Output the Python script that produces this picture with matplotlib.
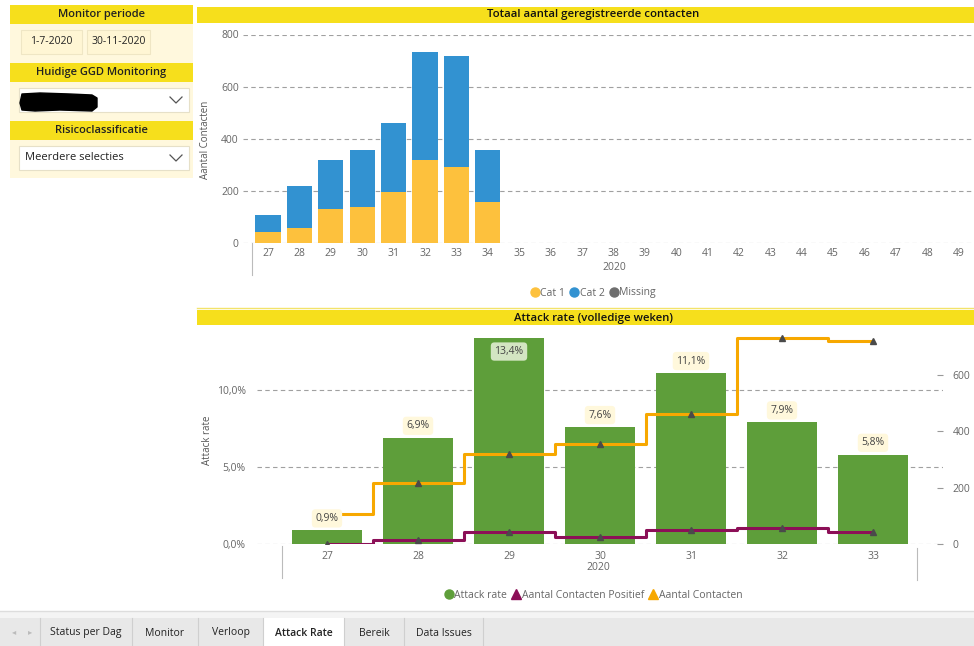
import matplotlib
matplotlib.use('Agg')
import matplotlib.pyplot as plt
from matplotlib.patches import Rectangle, Polygon
from matplotlib.lines import Line2D
from matplotlib.ticker import FuncFormatter

plt.rcParams['font.family'] = ['Open Sans', 'DejaVu Sans']

# ---------------- data ----------------
top_weeks = list(range(27, 50))
cat_weeks = [27, 28, 29, 30, 31, 32, 33, 34]
cat1 = [40, 56, 128, 138, 196, 316, 291, 157]
cat2 = [66, 162, 189, 217, 264, 415, 427, 198]
missing = [0, 0, 0, 0, 0, 0, 0, 0]

ar_weeks = [27, 28, 29, 30, 31, 32, 33]
attack_rate = [0.9, 6.9, 13.4, 7.6, 11.1, 7.9, 5.8]
contacts_pos = [1, 15, 43, 27, 51, 58, 42]
contacts = [107, 218, 318, 355, 460, 731, 718]

tabs = ["Status per Dag", "Monitor", "Verloop", "Attack Rate", "Bereik", "Data Issues"]

# ---------------- colors ----------------
YEL_HDR = '#F6DF1C'
CREAM = '#FFF8DD'
C_CAT1 = '#FDC13D'
C_CAT2 = '#3292D1'
C_MISS = '#6E6E6E'
C_GREEN = '#5E9E3A'
C_ORANGE = '#F7A800'
C_PURPLE = '#8C0F57'
C_MARK = '#4A4A4A'
C_TXT = '#666666'

W, H = 974, 646
fig = plt.figure(figsize=(W / 100, H / 100), dpi=100, facecolor='white')


def fx(x):
    return x / W


def fy(y):
    return 1 - y / H


def frect(x, y, w, h):
    return [x / W, 1 - (y + h) / H, w / W, h / H]


def box(x, y, w, h, fc, ec='none', lw=0.8, z=0):
    r = Rectangle((fx(x), fy(y + h)), w / W, h / H, transform=fig.transFigure,
                  facecolor=fc, edgecolor=ec, linewidth=lw, zorder=z)
    fig.add_artist(r)


def ftext(x, y, s, **kw):
    kw.setdefault('ha', 'center')
    kw.setdefault('va', 'center')
    fig.text(fx(x), fy(y), s, **kw)


def fline(xs, ys, **kw):
    fig.add_artist(Line2D([fx(v) for v in xs], [fy(v) for v in ys],
                          transform=fig.transFigure, **kw))


# ---------------- page background ----------------
box(0, 611, W, 7, '#F4F4F4')
fline([0, W], [611, 611], color='#DDDDDD', lw=1)
box(0, 618, W, 28, '#E8E8E8')

# ---------------- left filter panel ----------------
box(10, 5, 183, 173, CREAM)
for (y, label) in [(5, 'Monitor periode'), (63, 'Huidige GGD Monitoring'),
                   (121, 'Risicoclassificatie')]:
    box(10, y, 183, 19, YEL_HDR)
    ftext(101.5, y + 9.5, label, fontsize=8, color='#222222', weight='semibold')

box(21, 30, 61, 24, '#FFF6D4', ec='#EFE6C4')
ftext(51.5, 42, '1-7-2020', fontsize=7.5, color='#222222')
box(87, 30, 63, 24, '#FFF6D4', ec='#EFE6C4')
ftext(118.5, 42, '30-11-2020', fontsize=7.5, color='#222222')

box(19, 88, 170, 24, 'white', ec='#E6E0C8')
blob = Polygon([(fx(x), fy(y)) for x, y in
                [(22, 94), (40, 93), (70, 94), (92, 95), (97, 98), (97, 107),
                 (92, 111), (60, 110), (35, 111), (22, 110), (20, 103)]],
               closed=True, transform=fig.transFigure, facecolor='black',
               edgecolor='black', joinstyle='round', lw=1)
fig.add_artist(blob)
fline([170, 176, 182], [97, 103, 97], color='#555555', lw=0.9)

box(19, 146, 170, 24, 'white', ec='#E6E0C8')
ftext(25, 158, 'Meerdere selecties', fontsize=8, color='#222222', ha='left')
fline([170, 176, 182], [155, 161, 155], color='#555555', lw=0.9)

# ---------------- chart headers ----------------
box(197, 7, W - 197, 16, YEL_HDR)
ftext(593, 15, 'Totaal aantal geregistreerde contacten', fontsize=8.2,
      color='#111111', weight='semibold')
box(197, 310, W - 197, 15, YEL_HDR)
ftext(593, 318, 'Attack rate (volledige weken)', fontsize=8.2,
      color='#111111', weight='semibold')
fline([197, W], [308, 308], color='#F3E36A', lw=1)

# ---------------- top chart ----------------
step_t = 31.4
ax1 = fig.add_axes(frect(243, 34.5, W - 243, 242.7 - 34.5))
ax1.set_xlim(27 - (268 - 243) / step_t, 27 + (W - 268) / step_t)
ax1.set_ylim(0, 800)
ax1.bar(cat_weeks, cat1, width=0.8, color=C_CAT1, zorder=3)
ax1.bar(cat_weeks, cat2, width=0.8, bottom=cat1, color=C_CAT2, zorder=3)
ax1.set_yticks([0, 200, 400, 600, 800])
ax1.set_xticks(top_weeks)
ax1.set_xticklabels([str(w) for w in top_weeks])
ax1.yaxis.grid(True, linestyle=(0, (4, 3)), color='#A0A0A0', lw=0.8)
ax1.set_axisbelow(True)
for s in ax1.spines.values():
    s.set_visible(False)
ax1.tick_params(axis='both', length=0, labelsize=7.5, labelcolor=C_TXT)
ax1.tick_params(axis='x', pad=4)
ax1.tick_params(axis='y', pad=3)
ax1.patch.set_alpha(0)
fline([252, 252], [243, 275], color='#BBBBBB', lw=0.8)
ftext(614, 268, '2020', fontsize=7.5, color=C_TXT)
ftext(206, 140, 'Aantal Contacten', fontsize=7, color='#555555', rotation=90)

h_top = [Line2D([], [], marker='o', ls='none', color=c, ms=6.5) for c in (C_CAT1, C_CAT2, C_MISS)]
fig.legend(h_top, ['Cat 1', 'Cat 2', 'Missing'], loc='center',
           bbox_to_anchor=(fx(593), fy(293)), ncol=3, frameon=False,
           fontsize=7.5, labelcolor=C_TXT, handletextpad=0.1, columnspacing=0.4,
           handlelength=0.9)

# ---------------- bottom chart ----------------
step_b = 91.0
y0 = 544.3
ppct = 15.43
pcnt = 0.2825
top_px = 330
ax2 = fig.add_axes(frect(257, top_px, 943 - 257, y0 - top_px))
ax2.set_xlim(27 - (327 - 257) / step_b, 27 + (943 - 327) / step_b)
ax2.set_ylim(0, (y0 - top_px) / ppct)
ax2.bar(ar_weeks, attack_rate, width=0.76, color=C_GREEN, zorder=3)
ax2.set_yticks([0, 5, 10])
ax2.yaxis.set_major_formatter(FuncFormatter(lambda v, p: f"{v:.1f}%".replace('.', ',')))
ax2.set_xticks(ar_weeks)
ax2.yaxis.grid(True, linestyle=(0, (4, 3)), color='#A0A0A0', lw=0.8)
ax2.set_axisbelow(True)
for s in ax2.spines.values():
    s.set_visible(False)
ax2.tick_params(axis='both', length=0, labelsize=7.5, labelcolor=C_TXT)
ax2.tick_params(axis='x', pad=5)
ax2.tick_params(axis='y', pad=8)

ax3 = ax2.twinx()
ax3.set_ylim(0, (y0 - top_px) / pcnt)
ax3.set_yticks([0, 200, 400, 600])
for s in ax3.spines.values():
    s.set_visible(False)
ax3.tick_params(axis='y', direction='in', length=4, width=0.8, color='#999999',
                pad=7, labelsize=7.5, labelcolor=C_TXT)
ax3.plot(ar_weeks, contacts, drawstyle='steps-mid', color=C_ORANGE, lw=2.2,
         zorder=3, solid_joinstyle='round')
ax3.plot(ar_weeks, contacts_pos, drawstyle='steps-mid', color=C_PURPLE, lw=2.2,
         zorder=3, solid_joinstyle='round')
ax3.plot(ar_weeks, contacts, ls='none', marker='^', color=C_MARK, ms=5, zorder=4)
ax3.plot(ar_weeks, contacts_pos, ls='none', marker='^', color=C_MARK, ms=5, zorder=4)

for w, v in zip(ar_weeks, attack_rate):
    lab = f"{v:.1f}%".replace('.', ',')
    if v > 13:
        off, fc = -14, '#D3E5C2'
    else:
        off, fc = 12, '#FFF8DC'
    ax3.annotate(lab, xy=(w, v), xycoords=ax2.transData, xytext=(0, off),
                 textcoords='offset pixels', ha='center', va='center',
                 fontsize=7.5, color='#444444', zorder=6,
                 bbox=dict(boxstyle='round,pad=0.35', fc=fc, ec='none'))

fline([281.5, 281.5], [546, 578], color='#BBBBBB', lw=0.8)
fline([917, 917], [548, 580], color='#BBBBBB', lw=0.8)
ftext(598, 568, '2020', fontsize=7.5, color=C_TXT)
ftext(208, 440, 'Attack rate', fontsize=7, color='#555555', rotation=90)

h_bot = [Line2D([], [], marker='o', ls='none', color=C_GREEN, ms=6.5),
         Line2D([], [], marker='^', ls='none', color=C_PURPLE, ms=6.5),
         Line2D([], [], marker='^', ls='none', color=C_ORANGE, ms=6.5)]
fig.legend(h_bot, ['Attack rate', 'Aantal Contacten Positief', 'Aantal Contacten'],
           loc='center', bbox_to_anchor=(fx(593), fy(595)), ncol=3, frameon=False,
           fontsize=7.5, labelcolor=C_TXT, handletextpad=0.1, columnspacing=0.4,
           handlelength=0.9)

# ---------------- tab bar ----------------
seps = [40, 132, 198, 263, 344, 404, 483]
box(263, 618, 81, 28, 'white')
for x in seps:
    fline([x, x], [618, 646], color='#CFCFCF', lw=0.8)
ftext(14, 632, '\u25C2', fontsize=6, color='#BBBBBB', family='DejaVu Sans')
ftext(30, 632, '\u25B8', fontsize=6, color='#BBBBBB', family='DejaVu Sans')
for i, t in enumerate(tabs):
    cx = (seps[i] + seps[i + 1]) / 2
    ftext(cx, 633, t, fontsize=7.5, color='#222222',
          weight='semibold' if t == 'Attack Rate' else 'normal')

fig.savefig('out.png', dpi=100, facecolor='white')
